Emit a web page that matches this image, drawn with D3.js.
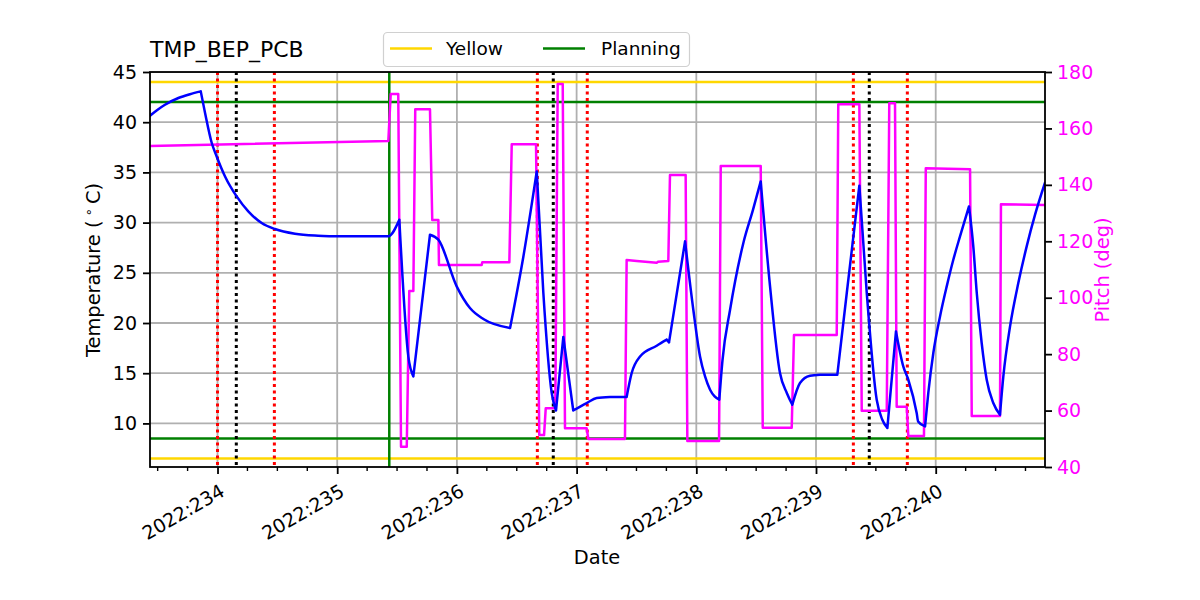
<!DOCTYPE html>
<html>
<head>
<meta charset="utf-8">
<script src="https://cdn.jsdelivr.net/npm/d3@7/dist/d3.min.js"></script>
<style>
  body { margin: 0; background: #fff; }
  svg { display: block; font-family: "DejaVu Sans", sans-serif; }
</style>
</head>
<body>
<svg id="chart" width="1200" height="600"></svg>
<script>
// ---------------- data ----------------
const title = "TMP_BEP_PCB";
const xTickDays = [234, 235, 236, 237, 238, 239, 240];
const xTickLabels = ["2022:234", "2022:235", "2022:236", "2022:237", "2022:238", "2022:239", "2022:240"];
const tempTicks = [10, 15, 20, 25, 30, 35, 40, 45];
const pitchTicks = [40, 60, 80, 100, 120, 140, 160, 180];

const yellowLimits = [6.5, 44];
const planningLimits = [8.5, 42];
const planningStart = 235.435;
const redLines = [234.0, 234.475, 236.672, 237.089, 239.312, 239.763];
const blackLines = [234.157, 236.805, 239.445];

const tempDays = [233.436, 233.494, 233.561, 233.673, 233.770, 233.860, 233.896, 233.952, 233.993, 234.063,
  234.160, 234.257, 234.369, 234.480, 234.647, 234.840, 235.065, 235.427, 235.519, 235.594,
  235.636, 235.775, 235.845, 235.998, 236.109, 236.221, 236.444, 236.555, 236.667, 236.722,
  236.792, 236.828, 236.889, 236.972, 237.084, 237.168, 237.279, 237.418, 237.460, 237.530,
  237.669, 237.753, 237.772, 237.906, 237.975, 238.031, 238.073, 238.115, 238.153, 238.192,
  238.219, 238.282, 238.393, 238.474, 238.538, 238.616, 238.699, 238.756, 238.802, 238.866,
  238.950, 239.033, 239.178, 239.257, 239.362, 239.424, 239.507, 239.554, 239.596, 239.668,
  239.729, 239.771, 239.841, 239.853, 239.911, 239.938, 239.980, 240.036, 240.092, 240.147,
  240.203, 240.278, 240.314, 240.343, 240.384, 240.426, 240.481, 240.537, 240.565, 240.621,
  240.690, 240.760, 240.830, 240.913];
const tempValues = [40.65, 41.20, 41.74, 42.41, 42.79, 43.07, 40.92, 37.93, 36.59, 34.60,
  32.61, 31.12, 29.96, 29.36, 28.89, 28.70, 28.63, 28.65, 30.29, 16.67,
  14.68, 28.79, 28.30, 23.65, 21.49, 20.40, 19.50, 26.60, 35.10, 23.02,
  13.03, 11.29, 18.61, 11.29, 12.03, 12.53, 12.63, 12.63, 15.02, 16.67,
  17.74, 18.34, 18.07, 28.13, 21.32, 16.67, 14.68, 13.36, 12.69, 12.36,
  16.34, 21.32, 27.97, 31.29, 34.10, 23.65, 15.02, 13.03, 11.86, 14.02,
  14.75, 14.85, 14.85, 22.99, 33.68, 22.99, 12.36, 10.36, 9.54, 19.16,
  15.68, 14.35, 11.04, 10.20, 9.70, 13.03, 17.01, 20.66, 23.65, 26.30,
  28.63, 31.61, 27.63, 22.99, 18.01, 14.35, 12.03, 10.87, 14.68, 19.66,
  23.98, 27.63, 30.79, 33.97];

const pitchDays = [233.436, 235.427, 235.447, 235.510, 235.533, 235.581, 235.602, 235.636, 235.652, 235.775,
  235.794, 235.845, 235.850, 236.207, 236.212, 236.438, 236.458, 236.661, 236.688, 236.728,
  236.742, 236.822, 236.842, 236.884, 236.903, 237.084, 237.098, 237.404, 237.418, 237.502,
  237.669, 237.680, 237.766, 237.780, 237.911, 237.925, 238.190, 238.204, 238.538, 238.555,
  238.797, 238.816, 239.173, 239.186, 239.362, 239.382, 239.591, 239.612, 239.660, 239.674,
  239.758, 239.771, 239.902, 239.917, 240.287, 240.301, 240.537, 240.545, 240.913];
const pitchValues = [153.77, 155.54, 172.2, 172.2, 47.17, 47.17, 102.37, 102.37, 166.78, 166.78,
  127.54, 127.54, 111.58, 111.58, 112.54, 112.54, 154.37, 154.37, 51.32, 51.32,
  60.79, 60.79, 175.75, 175.75, 53.70, 53.70, 49.90, 49.90, 113.36, 113.0,
  112.4, 112.75, 113.0, 143.49, 143.49, 49.19, 49.19, 146.68, 146.68, 53.91,
  53.91, 86.77, 86.77, 168.55, 168.55, 59.94, 59.94, 168.9, 168.9, 61.35,
  61.35, 50.97, 50.97, 145.86, 145.51, 58.06, 58.06, 133.1, 132.85];

// ---------------- layout ----------------
const FONT = "DejaVu Sans, sans-serif";
const TICK_FS = 19, LABEL_FS = 19.4;
const L = 150, R = 1045, T = 72, B = 467;
const svg = d3.select("#chart");

const x = d3.scaleLinear().domain([233.436, 240.913]).range([L, R]);
const yT = d3.scaleLinear().domain([5.66, 45]).range([B, T]);
const yP = d3.scaleLinear().domain([40, 180]).range([B, T]);

svg.append("defs").append("clipPath").attr("id", "clip")
  .append("rect").attr("x", L).attr("y", T).attr("width", R - L).attr("height", B - T);

const plot = svg.append("g").attr("clip-path", "url(#clip)");

// grid
plot.selectAll(".gx").data(xTickDays).enter().append("line")
  .attr("x1", d => x(d)).attr("x2", d => x(d)).attr("y1", T).attr("y2", B)
  .attr("stroke", "#b0b0b0").attr("stroke-width", 1.8);
plot.selectAll(".gy").data(tempTicks).enter().append("line")
  .attr("x1", L).attr("x2", R).attr("y1", d => yT(d)).attr("y2", d => yT(d))
  .attr("stroke", "#b0b0b0").attr("stroke-width", 1.8);

// limit lines
plot.selectAll(".yl").data(yellowLimits).enter().append("line")
  .attr("x1", L).attr("x2", R).attr("y1", d => yT(d)).attr("y2", d => yT(d))
  .attr("stroke", "#ffd700").attr("stroke-width", 2.5);
plot.selectAll(".pl").data(planningLimits).enter().append("line")
  .attr("x1", L).attr("x2", R).attr("y1", d => yT(d)).attr("y2", d => yT(d))
  .attr("stroke", "#008000").attr("stroke-width", 2.5);

// planning start vertical
plot.append("line")
  .attr("x1", x(planningStart)).attr("x2", x(planningStart)).attr("y1", T).attr("y2", B)
  .attr("stroke", "#008000").attr("stroke-width", 2.5);

// dotted verticals
plot.selectAll(".rl").data(redLines).enter().append("line")
  .attr("x1", d => x(d)).attr("x2", d => x(d)).attr("y1", T).attr("y2", B)
  .attr("stroke", "#ff0000").attr("stroke-width", 3).attr("stroke-dasharray", "3,3.5");
plot.selectAll(".bl").data(blackLines).enter().append("line")
  .attr("x1", d => x(d)).attr("x2", d => x(d)).attr("y1", T).attr("y2", B)
  .attr("stroke", "#000000").attr("stroke-width", 3).attr("stroke-dasharray", "3,3.5");

// pitch line
const pitchData = pitchDays.map((d, i) => [d, pitchValues[i]]);
plot.append("path").datum(pitchData)
  .attr("d", d3.line().x(d => x(d[0])).y(d => yP(d[1])))
  .attr("fill", "none").attr("stroke", "#ff00ff").attr("stroke-width", 2.5)
  .attr("stroke-linejoin", "round");

// temperature line: smooth within monotone runs, sharp at turning points
const tempData = tempDays.map((d, i) => [d, tempValues[i]]);
const splits = [0];
for (let i = 1; i < tempData.length - 1; i++) {
  if ((tempData[i][1] - tempData[i - 1][1]) * (tempData[i + 1][1] - tempData[i][1]) <= 0) splits.push(i);
}
splits.push(tempData.length - 1);
const segLine = d3.line().x(d => x(d[0])).y(d => yT(d[1])).curve(d3.curveMonotoneX);
let dStr = "";
for (let s = 0; s < splits.length - 1; s++) {
  dStr += segLine(tempData.slice(splits[s], splits[s + 1] + 1));
}
plot.append("path")
  .attr("d", dStr)
  .attr("fill", "none").attr("stroke", "#0000ff").attr("stroke-width", 2.5)
  .attr("stroke-linejoin", "round").attr("stroke-linecap", "round");

// ---------------- axes ----------------
const minorTicks = d3.range(233.5, 240.95, 0.25).filter(d => Math.abs(d - Math.round(d)) > 1e-6);
const xAxis = d3.axisBottom(x).tickValues(xTickDays).tickFormat((d, i) => xTickLabels[i]).tickSize(7).tickSizeOuter(0);
const gx = svg.append("g").attr("transform", `translate(0,${B})`).call(xAxis)
  .attr("font-family", FONT).attr("font-size", TICK_FS);
gx.select(".domain").remove();
gx.selectAll(".tick line").attr("stroke", "#000").attr("stroke-width", 1.8);
gx.selectAll(".tick text")
  .attr("fill", "#000")
  .attr("text-anchor", "end")
  .attr("transform", "translate(8,28) rotate(-30)")
  .attr("y", 0).attr("dy", 0).attr("x", 0);

svg.append("g").selectAll("line").data(minorTicks).enter().append("line")
  .attr("x1", d => x(d)).attr("x2", d => x(d)).attr("y1", B).attr("y2", B + 4)
  .attr("stroke", "#000").attr("stroke-width", 1.4);

const yAxisL = d3.axisLeft(yT).tickValues(tempTicks).tickSize(7).tickPadding(6);
const gyl = svg.append("g").attr("transform", `translate(${L},0)`).call(yAxisL)
  .attr("font-family", FONT).attr("font-size", TICK_FS);
gyl.select(".domain").remove();
gyl.selectAll(".tick line").attr("stroke", "#000").attr("stroke-width", 1.8);
gyl.selectAll(".tick text").attr("fill", "#000");

const yAxisR = d3.axisRight(yP).tickValues(pitchTicks).tickSize(7).tickPadding(5);
const gyr = svg.append("g").attr("transform", `translate(${R},0)`).call(yAxisR)
  .attr("font-family", FONT).attr("font-size", TICK_FS);
gyr.select(".domain").remove();
gyr.selectAll(".tick line").attr("stroke", "#000").attr("stroke-width", 1.8);
gyr.selectAll(".tick text").attr("fill", "#ff00ff");

// frame
svg.append("rect").attr("x", L).attr("y", T).attr("width", R - L).attr("height", B - T)
  .attr("fill", "none").attr("stroke", "#000").attr("stroke-width", 1.8);

// labels
svg.append("text").attr("x", L).attr("y", 57).attr("font-size", 22).attr("fill", "#000").text(title);

svg.append("text").attr("x", 597).attr("y", 564).attr("text-anchor", "middle")
  .attr("font-size", LABEL_FS).attr("fill", "#000").text("Date");

const ylab = svg.append("text").attr("transform", "translate(100,270) rotate(-90)")
  .attr("text-anchor", "middle").attr("font-size", LABEL_FS).attr("fill", "#000");
ylab.append("tspan").text("Temperature (");
ylab.append("tspan").attr("font-size", 13).attr("dy", -7).text(" \u2218 ");
ylab.append("tspan").attr("dy", 7).text("C)");

svg.append("text").attr("transform", "translate(1109,270) rotate(-90)")
  .attr("text-anchor", "middle").attr("font-size", LABEL_FS).attr("fill", "#ff00ff").text("Pitch (deg)");

// legend
const lg = svg.append("g");
lg.append("rect").attr("x", 383.5).attr("y", 32.5).attr("width", 306).attr("height", 34).attr("rx", 4)
  .attr("fill", "#fff").attr("fill-opacity", 0.8).attr("stroke", "#d0d0d0").attr("stroke-width", 1.2);
const legendItems = [["Yellow", "#ffd700", 390, 446], ["Planning", "#008000", 543, 601]];
legendItems.forEach(([lab, col, lx, tx]) => {
  lg.append("line").attr("x1", lx).attr("x2", lx + 42).attr("y1", 48.5).attr("y2", 48.5)
    .attr("stroke", col).attr("stroke-width", 2.5);
  lg.append("text").attr("x", tx).attr("y", 55).attr("font-size", 18.5).attr("fill", "#000").text(lab);
});
</script>
</body>
</html>
